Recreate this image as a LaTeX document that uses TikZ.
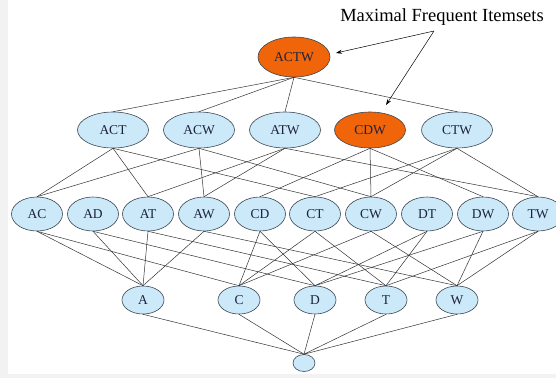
\documentclass[tikz,border=0pt]{standalone}
\usepackage{fontspec}
\setmainfont{Liberation Serif}
\usetikzlibrary{shapes.geometric,arrows.meta}
\definecolor{lblue}{RGB}{204,233,250}
\definecolor{orng}{RGB}{240,100,10}
\definecolor{txt}{RGB}{30,35,60}
\definecolor{bord}{RGB}{60,70,80}
\definecolor{margin}{RGB}{242,242,242}
\tikzset{
  item/.style={ellipse,draw=bord,line width=0.6pt,fill=lblue,inner sep=0pt,
     text=txt,font=\fontsize{13.5}{15}\selectfont},
  maxitem/.style={item,fill=orng},
  lthree/.style={minimum width=71pt,minimum height=36pt},
  ltwo/.style={minimum width=51pt,minimum height=34pt},
  lone/.style={minimum width=42pt,minimum height=28pt},
  edge/.style={draw=black!80,line width=0.5pt},
  pointer/.style={draw=black,line width=0.5pt,-{Stealth[length=6pt,width=4pt]}}
}
\begin{document}
\begin{tikzpicture}[x=1pt,y=-1pt]
\clip (0,0) rectangle (556,378);
\fill[margin] (0,0) rectangle (556,378);
\fill[white] (8,0) rectangle (556,374);
% top
\node[maxitem,minimum width=72pt,minimum height=40pt] (ACTW) at (294,57) {ACTW};
% level 3
\node[item,lthree] (ACT) at (113,130) {ACT};
\node[item,lthree] (ACW) at (199,130) {ACW};
\node[item,lthree] (ATW) at (285,130) {ATW};
\node[maxitem,lthree] (CDW) at (370,130) {CDW};
\node[item,lthree] (CTW) at (457,130) {CTW};
% level 2
\node[item,ltwo] (AC) at (37,214) {AC};
\node[item,ltwo] (AD) at (93,214) {AD};
\node[item,ltwo] (AT) at (148,214) {AT};
\node[item,ltwo] (AW) at (204,214) {AW};
\node[item,ltwo] (CD) at (260,214) {CD};
\node[item,ltwo] (CT) at (315,214) {CT};
\node[item,ltwo] (CW) at (371,214) {CW};
\node[item,ltwo] (DT) at (427,214) {DT};
\node[item,ltwo] (DW) at (483,214) {DW};
\node[item,ltwo] (TW) at (538,214) {TW};
% level 1
\node[item,lone] (A) at (143,300) {A};
\node[item,lone] (C) at (239,300) {C};
\node[item,lone] (D) at (315,300) {D};
\node[item,lone] (T) at (386,300) {T};
\node[item,lone] (W) at (457,300) {W};
% empty
\node[item,minimum width=22pt,minimum height=17pt] (E) at (304,363) {};
% edges top
\foreach \c in {ACT,ACW,ATW,CTW} \draw[edge] (ACTW.south) -- (\c.north);
% level 3 -> 2
\foreach \p/\c in {ACT/AC,ACT/AT,ACT/CT,ACW/AC,ACW/AW,ACW/CW,ATW/AT,ATW/AW,ATW/TW,
  CDW/CD,CDW/CW,CDW/DW,CTW/CT,CTW/CW,CTW/TW}
  \draw[edge] (\p.south) -- (\c.north);
% level 2 -> 1
\foreach \p/\c in {AC/A,AC/C,AD/A,AD/D,AT/A,AT/T,AW/A,AW/W,CD/C,CD/D,CT/C,CT/T,
  CW/C,CW/W,DT/D,DT/T,DW/D,DW/W,TW/T,TW/W}
  \draw[edge] (\p.south) -- (\c.north);
% level 1 -> empty
\foreach \p in {A,C,D,T,W} \draw[edge] (\p.south) -- (E.north);
% label
\node[font=\fontsize{18.5}{20}\selectfont,inner sep=0pt,anchor=base] (lbl) at (442,21) {Maximal Frequent Itemsets};
\coordinate (src) at (434,31);
\coordinate (tipA) at (336,53);
\coordinate (tipB) at (386,105);
\draw[pointer] (src) -- (tipA);
\draw[pointer] (src) -- (tipB);
\end{tikzpicture}
\end{document}
